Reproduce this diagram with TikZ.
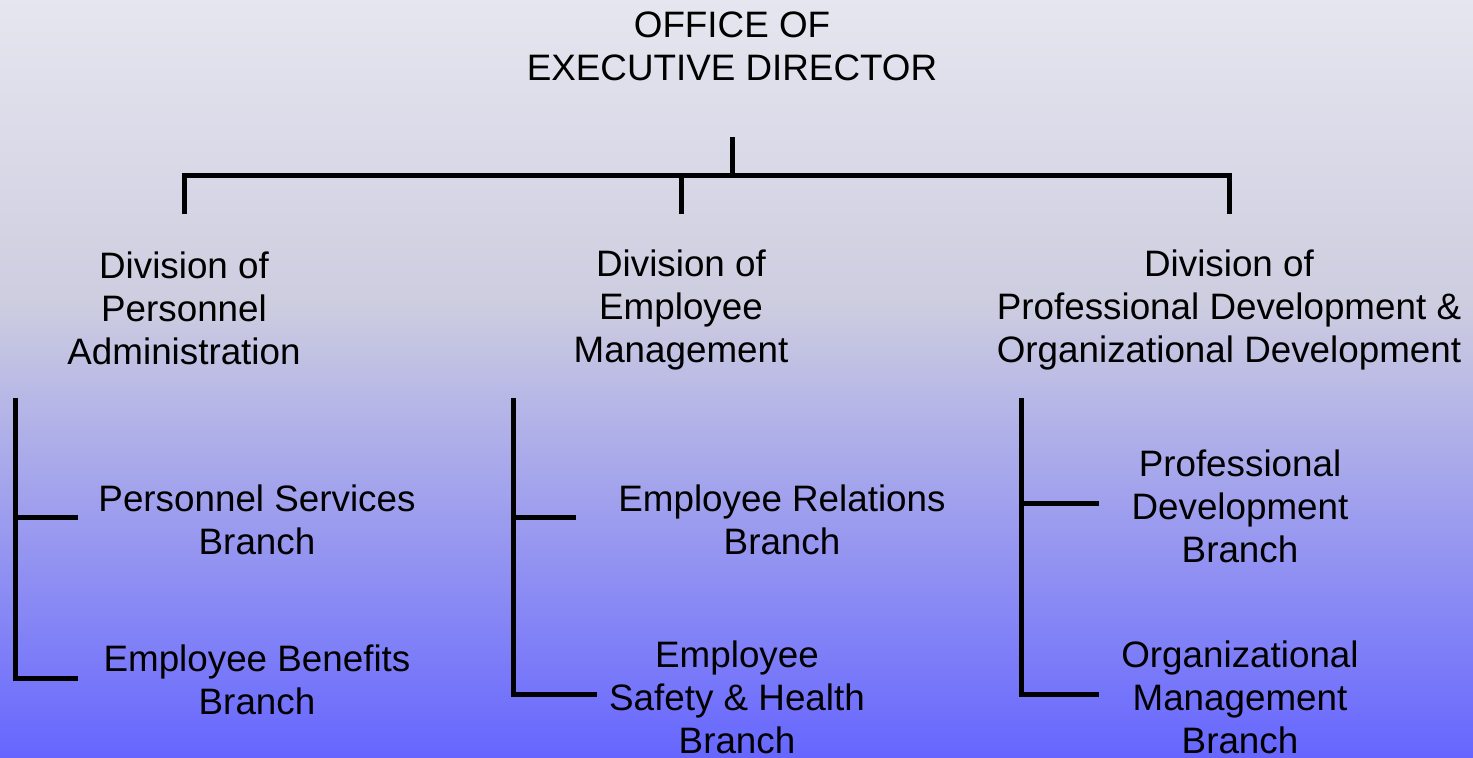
\documentclass[tikz,border=0pt]{standalone}
\usepackage{fontspec}
\setmainfont{Liberation Sans}
\definecolor{bgtop}{RGB}{230,230,240}
\definecolor{bgmid}{RGB}{205,205,224}
\definecolor{bgbot}{RGB}{102,102,255}
\pgfdeclareverticalshading{bgfade}{100bp}{color(0bp)=(bgbot); color(25bp)=(bgbot); color(55bp)=(bgmid); color(75bp)=(bgtop); color(100bp)=(bgtop)}
\tikzset{
  lbl/.style={align=center, inner sep=0pt, text=black},
  bar/.style={line width=2.5pt, line join=miter, line cap=butt}
}
\begin{document}
\begin{tikzpicture}[x=0.5pt, y=-0.5pt, font=\fontsize{18.4}{21.5}\selectfont]
\shade[shading=bgfade] (0,0) rectangle (1473,758);
\useasboundingbox (0,0) rectangle (1473,758);
% Texte
\node[lbl] (oed) at (732,46) {OFFICE OF\\EXECUTIVE DIRECTOR};
\node[lbl] (dpa) at (184,308) {Division of\\Personnel\\Administration};
\node[lbl] (dem) at (681,310) {Division of\\Employee\\Management};
\node[lbl] (dpd) at (1229,310) {Division of\\Professional Development \&\\Organizational Development};
\node[lbl] (psb) at (257,520) {Personnel Services\\Branch};
\node[lbl] (ebb) at (257,680) {Employee Benefits\\Branch};
\node[lbl] (erb) at (782,520) {Employee Relations\\Branch};
\node[lbl] (esh) at (737,697) {Employee\\Safety \& Health\\Branch};
\node[lbl] (pdb) at (1240,506) {Professional\\Development\\Branch};
\node[lbl] (omb) at (1240,697) {Organizational\\Management\\Branch};
% Verbindungen oben
\coordinate (top) at (732,137);
\coordinate (hub) at (732,176);
\coordinate (s1) at (184,214);
\coordinate (s2) at (681,214);
\coordinate (s3) at (1229,214);
\draw[bar] (top) -- (hub);
\draw[bar] (s1) |- (hub) -| (s3);
\draw[bar] (s2) -- (s2 |- hub);
% Klammern
\coordinate (k1) at (15,398);
\coordinate (k2) at (513,398);
\coordinate (k3) at (1021,398);
\draw[bar] (k1) |- (78,679);
\draw[bar] (k1 |- 0,518) -- (78,518);
\draw[bar] (k2) |- (597,695);
\draw[bar] (k2 |- 0,518) -- (576,518);
\draw[bar] (k3) |- (1099,695);
\draw[bar] (k3 |- 0,504) -- (1099,504);
\end{tikzpicture}
\end{document}
